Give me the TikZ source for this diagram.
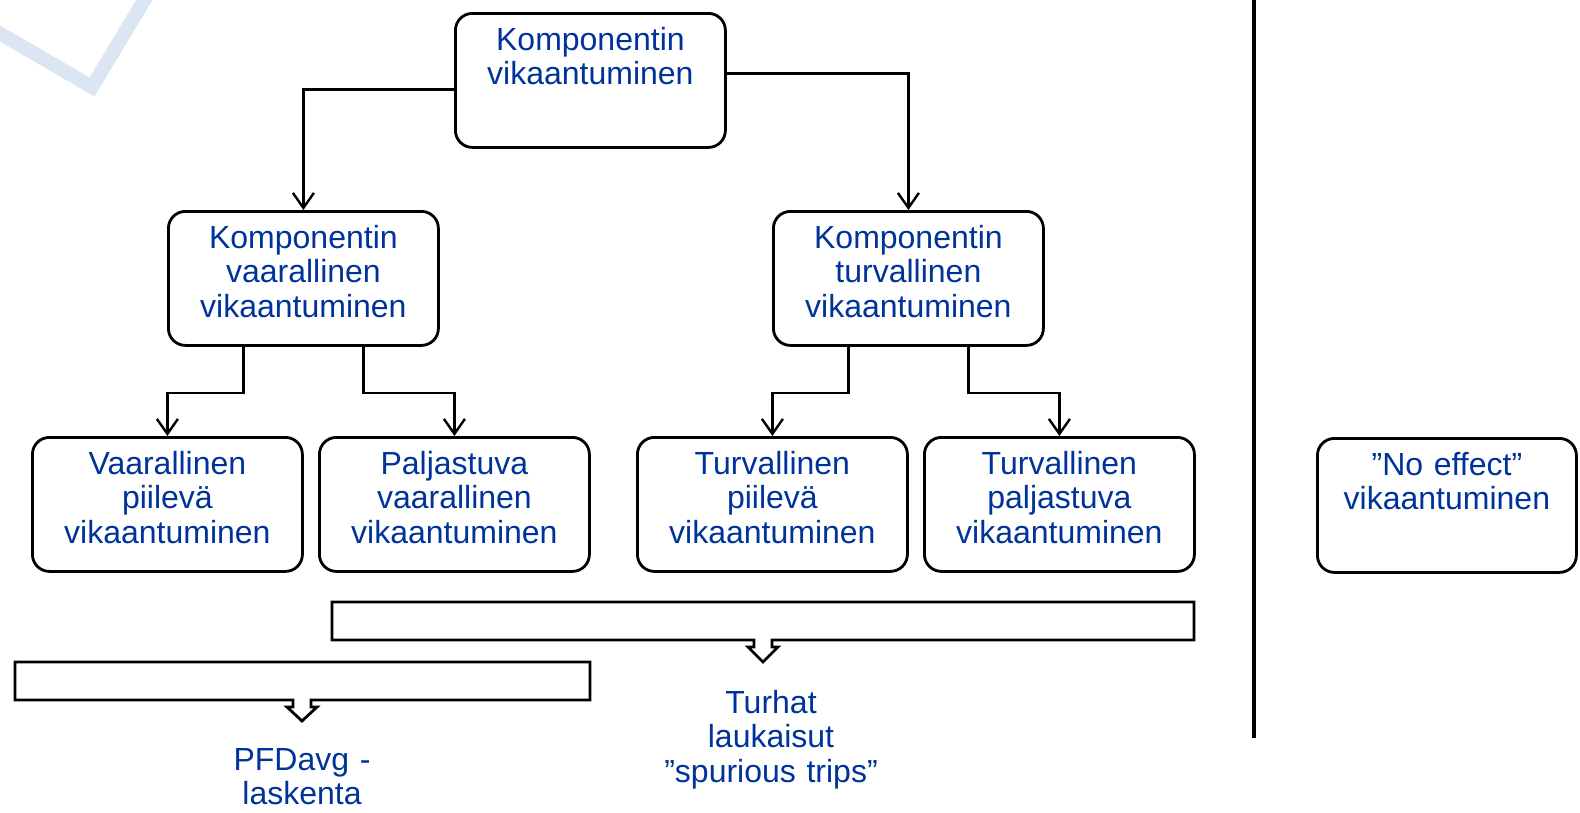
\documentclass[tikz,border=0pt]{standalone}
\usepackage{fontspec}
\setmainfont{Liberation Sans}
\usetikzlibrary{arrows.meta}
\definecolor{txtblue}{RGB}{0,51,153}
\definecolor{wmark}{RGB}{220,230,242}

\begin{document}
\begin{tikzpicture}[x=1pt, y=-1pt, font=\fontsize{32}{34.5}\selectfont,
    main/.style = {draw, line width=2.8pt, rounded corners=17pt, inner sep=0pt, anchor=north west, text width=270pt, align=center, text height=37pt, text depth=97pt, text=txtblue},
    lbl/.style = {inner sep=0pt, anchor=base, text width=320pt, align=center, text=txtblue},
    arr/.style = {-{Straight Barb[length=15pt, width=21pt]}, line width=2.4pt},
    brk/.style = {draw, line width=2.8pt, line join=miter}]
                \useasboundingbox (0,0) rectangle (1580,812);
                \draw[line width=14pt, wmark] (-6,30) -- (92,87) -- (148,-6);
                \draw[line width=3.5pt] (1254,0) -- (1254,738);
                \node[main] (k0) at (454,12) {Komponentin\\vikaantuminen};
                \node[main] (v0) at (167,210) {Komponentin\\vaarallinen\\vikaantuminen};
                \node[main] (t0) at (772,210) {Komponentin\\turvallinen\\vikaantuminen};
                \node[main] (a0) at (31,436) {Vaarallinen\\piilevä\\vikaantuminen};
                \node[main] (a1) at (318,436) {Paljastuva\\vaarallinen\\vikaantuminen};
                \node[main] (a2) at (636,436) {Turvallinen\\piilevä\\vikaantuminen};
                \node[main] (a3) at (923,436) {Turvallinen\\paljastuva\\vikaantuminen};
                \node[main, text width=259pt] (n0) at (1316,437) {”No effect”\\vikaantuminen};
                \draw[arr] ([yshift=-9pt]k0.west) -| (v0.north);
                \draw[arr] ([yshift=7pt]k0.east) -| (t0.north);
                \draw[arr] ([xshift=-60pt]v0.south) -- ++(0,46) -| (a0.north);
                \draw[arr] ([xshift=60pt]v0.south) -- ++(0,46) -| (a1.north);
                \draw[arr] ([xshift=-60pt]t0.south) -- ++(0,46) -| (a2.north);
                \draw[arr] ([xshift=60pt]t0.south) -- ++(0,46) -| (a3.north);
                % brackets with arrow notch
                \draw[brk] (332,602) -- (1194,602) -- (1194,640) -- (772,640) -- (772,647) -- (778,647) -- (763,662) -- (748,647) -- (754,647) -- (754,640) -- (332,640) -- cycle;
                \draw[brk] (15,662) -- (590,662) -- (590,700) -- (311,700) -- (311,707) -- (317,707) -- (302,721) -- (287,707) -- (293,707) -- (293,700) -- (15,700) -- cycle;
                \node[lbl] (s0) at (771,713) {Turhat\\laukaisut\\”spurious trips”};
                \node[lbl] (p0) at (302,770) {PFDavg -\\laskenta};
            \end{tikzpicture}
\end{document}
